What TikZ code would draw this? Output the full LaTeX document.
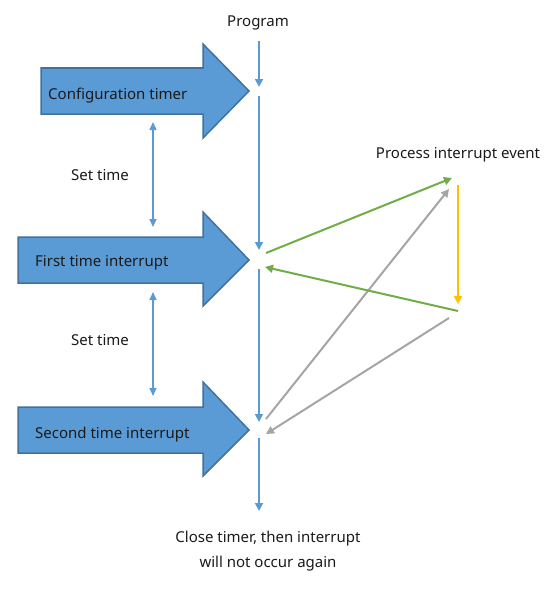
\documentclass[tikz,border=0pt]{standalone}
\usepackage{fontspec}
\setmainfont{Noto Sans}
\usetikzlibrary{arrows.meta}
\definecolor{blu}{HTML}{5B9BD5}
\definecolor{bluedge}{HTML}{41719C}
\definecolor{grn}{HTML}{70AD47}
\definecolor{org}{HTML}{FFC000}
\definecolor{gry}{HTML}{A5A5A5}
\definecolor{txt}{HTML}{1A1A1A}
\begin{document}
\begin{tikzpicture}[x=1pt,y=-1pt,
  blockarrow/.style={fill=blu,draw=bluedge,line width=1.5pt,line join=miter},
  lbl/.style={font=\fontsize{15}{25}\selectfont,text=txt,inner sep=0pt,align=center},
  tip/.style={-{Triangle[width=8pt,length=8pt]}},
  flow/.style={tip,draw=blu,line width=1.8pt},
  dbl/.style={{Triangle[width=7pt,length=8pt]}-{Triangle[width=7pt,length=8pt]},draw=blu,line width=1.5pt},
  grnar/.style={tip,draw=grn,line width=2pt},
  gryar/.style={tip,draw=gry,line width=2pt},
  orgar/.style={tip,draw=org,line width=2pt}]
\useasboundingbox (0,0) rectangle (555,610);
% block arrows
\draw[blockarrow] (41,68) -- (203,68) -- (203,44) -- (249,91) -- (203,138) -- (203,114) -- (41,114) -- cycle;
\node[lbl,anchor=west] (cfg) at (48,96) {Configuration timer};
\draw[blockarrow] (18,237) -- (203,237) -- (203,212) -- (249,260) -- (203,306) -- (203,283) -- (18,283) -- cycle;
\node[lbl,anchor=west] (first) at (35,263) {First time interrupt};
\draw[blockarrow] (18,407) -- (203,407) -- (203,382) -- (249,430) -- (203,476) -- (203,453) -- (18,453) -- cycle;
\node[lbl,anchor=west] (second) at (35,435) {Second time interrupt};
% program line coordinates
\node[lbl] (prog) at (258,23) {Program};
\coordinate (p0) at (259,41);
\coordinate (p1) at (259,87);
\coordinate (p2) at (259,96);
\coordinate (p3) at (259,250);
\coordinate (p4) at (259,269);
\coordinate (p5) at (259,422);
\coordinate (p6) at (259,438);
\coordinate (p7) at (259,511);
\draw[flow] (p0) -- (p1);
\draw[flow] (p2) -- (p3);
\draw[flow] (p4) -- (p5);
\draw[flow] (p6) -- (p7);
\node[lbl] (close) at (268,551) {Close timer, then interrupt\\will not occur again};
% set time
\coordinate (s1a) at (153,122);
\coordinate (s1b) at (153,227);
\coordinate (s2a) at (153,292);
\coordinate (s2b) at (153,396);
\draw[dbl] (s1a) -- (s1b);
\draw[dbl] (s2a) -- (s2b);
\node[lbl] (st1) at (100,175) {Set time};
\node[lbl] (st2) at (100,340) {Set time};
% interrupt event
\node[lbl] (proc) at (458,155) {Process interrupt event};
\coordinate (g1a) at (266,253);
\coordinate (g1b) at (452,178);
\coordinate (g2a) at (458,311);
\coordinate (g2b) at (265,267);
\coordinate (o1) at (458,185);
\coordinate (o2) at (458,304);
\coordinate (y1a) at (266,419);
\coordinate (y1b) at (449,189);
\coordinate (y2a) at (449,318);
\coordinate (y2b) at (266,434);
\draw[gryar] (y1a) -- (y1b);
\draw[gryar] (y2a) -- (y2b);
\draw[grnar] (g1a) -- (g1b);
\draw[grnar] (g2a) -- (g2b);
\draw[orgar] (o1) -- (o2);
\end{tikzpicture}
\end{document}
